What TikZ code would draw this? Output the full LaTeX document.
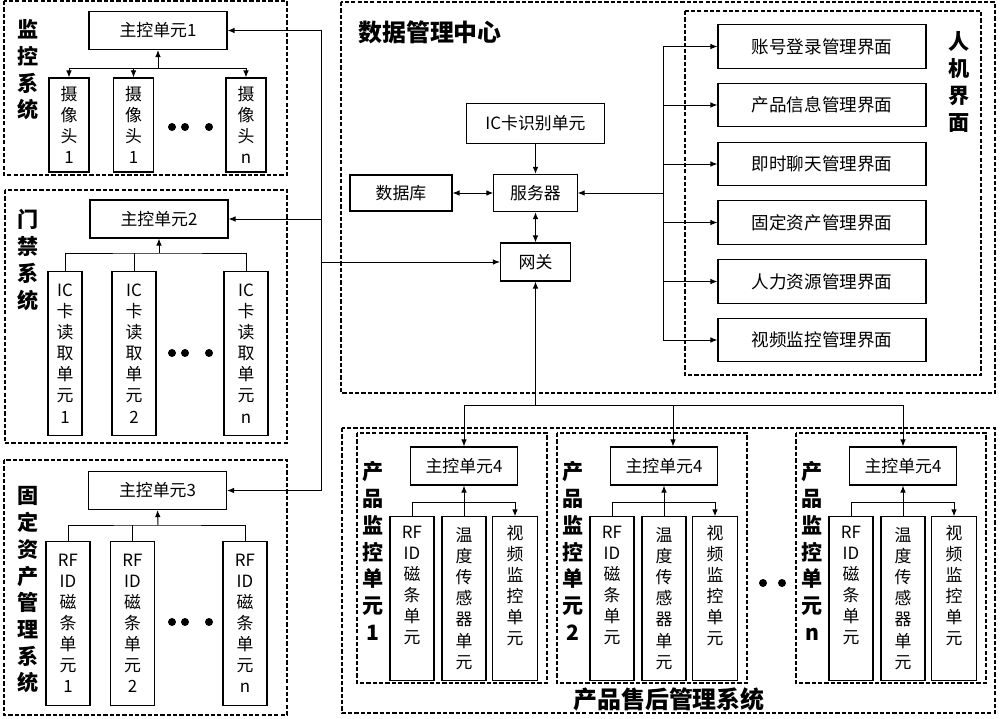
\documentclass[tikz,border=0pt]{standalone}
\usepackage{fontspec}
\setmainfont{Noto Sans CJK SC}
\usetikzlibrary{arrows.meta}

\begin{document}
\begin{tikzpicture}[x=0.025cm, y=-0.025cm,
        unitbox/.style={draw, line width=0.8pt, align=center, inner sep=1pt, font=\fontsize{12}{15}\selectfont},
        tallbox/.style={unitbox, minimum width=1.1cm, minimum height=4.08cm},
        mainbox/.style={unitbox, minimum width=3.45cm, minimum height=0.95cm},
        uibox/.style={unitbox, minimum width=5.2cm, minimum height=1.08cm, font=\fontsize{12.5}{15}\selectfont},
        groupframe/.style={draw, line width=0.8pt, dash pattern=on 3pt off 1.5pt},
        sidelabel/.style={align=center, font=\fontsize{15}{19}\selectfont\bfseries},
        heading/.style={font=\fontsize{17}{20}\selectfont\bfseries},
        wire/.style={line width=0.7pt},
        arrow/.style={-{Latex[length=5pt,width=4pt]}, line width=0.7pt},
        darrow/.style={{Latex[length=5pt,width=4pt]}-{Latex[length=5pt,width=4pt]}, line width=0.7pt}
    ]
    \useasboundingbox (0,0) rectangle (1000,718);
    % Frames
    \draw[groupframe] (4,1) rectangle (287,175);
    \draw[groupframe] (5,190) rectangle (287,443);
    \draw[groupframe] (4,460) rectangle (287,715);
    \draw[groupframe] (341,2) rectangle (995,393);
    \draw[groupframe] (685,11) rectangle (981,375);
    \draw[groupframe] (342,428) rectangle (995,713);
    % Monitoring system
    \node[sidelabel] (lmon) at (28,70) {监\\控\\系\\统};
    \node[mainbox] (mc1) at (158,30.5) {主控单元1};
    \node[unitbox, minimum width=1cm, minimum height=2.35cm] (cam1) at (69,125) {摄\\像\\头\\1};
    \node[unitbox, minimum width=1cm, minimum height=2.35cm] (cam2) at (133.5,125) {摄\\像\\头\\1};
    \node[unitbox, minimum width=1cm, minimum height=2.35cm] (camn) at (246,125) {摄\\像\\头\\n};
    \coordinate (b1) at (158,68);
    \draw[arrow] (b1) -- (mc1.south);
    \draw[arrow] (b1) -| (cam1.north);
    \draw[arrow] (b1) -| (camn.north);
    \draw[arrow] (cam2.north |- b1) -- (cam2.north);
    % Door access system
    \node[sidelabel] (ldoor) at (28,260) {门\\禁\\系\\统};
    \node[mainbox] (mc2) at (159,219) {主控单元2};
    \node[tallbox, minimum width=0.85cm] (ic1) at (65,353.5) {IC\\卡\\读\\取\\单\\元\\1};
    \node[tallbox] (ic2) at (134,353.5) {IC\\卡\\读\\取\\单\\元\\2};
    \node[tallbox] (icn) at (246,353.5) {IC\\卡\\读\\取\\单\\元\\n};
    \coordinate (b2) at (159,253);
    \draw[arrow] (b2) -- (mc2.south);
    \draw[wire] (ic1.north) |- (b2) -| (icn.north);
    \draw[wire] (ic2.north) -- (ic2.north |- b2);
    % Fixed assets system
    \node[sidelabel] (lasset) at (28,590) {固\\定\\资\\产\\管\\理\\系\\统};
    \node[mainbox] (mc3) at (157.5,490.5) {主控单元3};
    \node[tallbox] (rf1) at (68,623.5) {RF\\ID\\磁\\条\\单\\元\\1};
    \node[tallbox] (rf2) at (132.5,623.5) {RF\\ID\\磁\\条\\单\\元\\2};
    \node[tallbox] (rfn) at (245,623.5) {RF\\ID\\磁\\条\\单\\元\\n};
    \coordinate (b3) at (158,525);
    \draw[arrow] (b3) -- (mc3.south);
    \draw[wire] (rf1.north) |- (b3) -| (rfn.north);
    \draw[wire] (rf2.north) -- (rf2.north |- b3);
    \foreach \y in {127,353,622}
        \foreach \x in {172,185,209}
            \fill (\x,\y) circle (0.1cm);
    % Data management centre
    \node[heading] (tdc) at (430,32) {数据管理中心};
    \node[mainbox, minimum height=0.98cm] (icr) at (535.5,123.5) {IC卡识别单元};
    \node[unitbox, minimum width=2.55cm, minimum height=0.9cm] (db) at (401,193) {数据库};
    \node[unitbox, minimum width=2.08cm, minimum height=0.93cm] (srv) at (535.5,193) {服务器};
    \node[unitbox, minimum width=1.75cm, minimum height=0.95cm] (gw) at (535.5,262) {网关};
    \draw[arrow] (icr) -- (srv);
    \draw[darrow] (db) -- (srv);
    \draw[darrow] (srv) -- (gw);
    % Human-machine interface
    \node[sidelabel] (lhmi) at (959,82) {人\\机\\界\\面};
    \node[uibox] (ui1) at (822,46.5) {账号登录管理界面};
    \node[uibox] (ui2) at (822,105) {产品信息管理界面};
    \node[uibox] (ui3) at (822,164) {即时聊天管理界面};
    \node[uibox] (ui4) at (822,222.5) {固定资产管理界面};
    \node[uibox] (ui5) at (822,281.5) {人力资源管理界面};
    \node[uibox] (ui6) at (822,340) {视频监控管理界面};
    \coordinate (hb) at (663,193);
    \draw[arrow] (hb) -- (srv.east);
    \foreach \i in {1,...,6}
        \draw[arrow] (hb) |- (ui\i.west);
    % Gateway to the subsystems
    \coordinate (trunk) at (321,262);
    \draw[arrow] (trunk) |- (mc1.east);
    \draw[arrow] (trunk) |- (mc3.east);
    \draw[arrow] (trunk |- mc2.east) -- (mc2.east);
    \draw[arrow] (trunk) -- (gw.west);
    % After-sales system
    \node[heading] (tps) at (669,699) {产品售后管理系统};
    \foreach \u/\cx in {1/464, 2/664, n/903} {
        \node[unitbox, minimum width=2.68cm, minimum height=0.95cm] (pm\u) at (\cx,466) {主控单元4};
        \node[tallbox] (rs\u) at (\cx-52,598.5) {RF\\ID\\磁\\条\\单\\元\\\strut};
        \node[tallbox] (ts\u) at (\cx,598.5) {温\\度\\传\\感\\器\\单\\元};
        \node[tallbox, minimum width=1.13cm] (vs\u) at (\cx+51,598.5) {视\\频\\监\\控\\单\\元\\\strut};
        \node[sidelabel] (lpm\u) at (\cx-91,551) {产\\品\\监\\控\\单\\元\\\u};
        \coordinate (pb\u) at (\cx,502);
        \draw[wire] (rs\u.north) |- (pb\u);
        \draw[arrow] (pb\u) -| (vs\u.north);
        \draw[arrow] (ts\u.north) -- (pm\u.south);
        \draw[groupframe] (\cx-107,433) rectangle (\cx+83,683);
    }
    \fill (763,583) circle (0.1cm);
    \fill (782,583) circle (0.1cm);
    \coordinate (pb) at (535.5,405);
    \draw[arrow] (pb) -- (gw.south);
    \draw[arrow] (pb) -| (pm1.north);
    \draw[arrow] (pb) -| ([xshift=0.225cm]pm2.north);
    \draw[arrow] (pb) -| (pmn.north);
\end{tikzpicture}
\end{document}
